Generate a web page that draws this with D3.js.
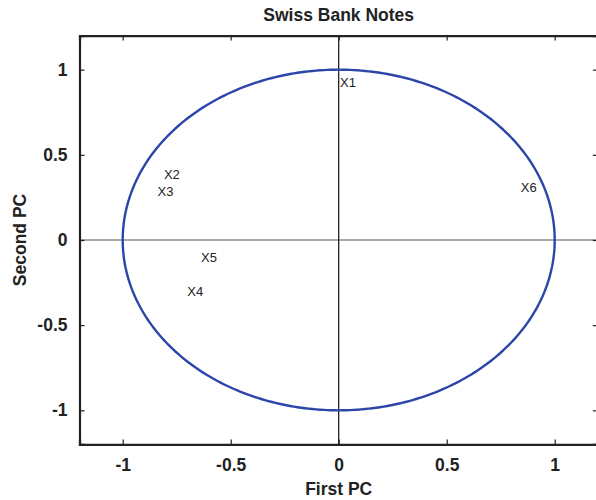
<!DOCTYPE html>
<html><head><meta charset="utf-8">
<script src="https://cdn.jsdelivr.net/npm/d3@7"></script>
<style>
html,body{margin:0;padding:0;background:#fff;}
svg{display:block;}
text{font-family:"Liberation Sans",Arial,sans-serif;}
</style></head>
<body>
<svg id="chart" width="596" height="500"></svg>
<script>
const variables = ["X1","X2","X3","X4","X5","X6"];
const firstPC  = [0.006, -0.809, -0.839, -0.701, -0.637, 0.843];
const secondPC = [0.928, 0.385, 0.288, -0.301, -0.102, 0.309];
const xTicks = [-1, -0.5, 0, 0.5, 1];
const yTicks = [-1, -0.5, 0, 0.5, 1];
const title = "Swiss Bank Notes";
const xLabel = "First PC";
const yLabel = "Second PC";

const svg = d3.select("#chart");
const L = 79.5, R = 597.9, T = 35.6, B = 444.4;
const x = d3.scaleLinear().domain([-1.2, 1.2]).range([L, R]);
const y = d3.scaleLinear().domain([-1.2, 1.2]).range([B, T]);

// zero lines
svg.append("line").attr("x1", x(-1.2)).attr("x2", x(1.2)).attr("y1", y(0)).attr("y2", y(0))
  .attr("stroke", "#555").attr("stroke-width", 1.2);
svg.append("line").attr("x1", x(0)).attr("x2", x(0)).attr("y1", y(-1.2)).attr("y2", y(1.2))
  .attr("stroke", "#111").attr("stroke-width", 1.2);

// unit circle
const angles = d3.range(0, 361, 1).map(a => a * Math.PI / 180);
svg.append("path")
  .datum(angles)
  .attr("d", d3.line().x(a => x(Math.cos(a))).y(a => y(Math.sin(a))))
  .attr("fill", "none").attr("stroke", "#2b46a8").attr("stroke-width", 2.4);

// labels
svg.selectAll("text.var").data(variables).enter().append("text")
  .attr("class", "var")
  .attr("x", (d, i) => x(firstPC[i]))
  .attr("y", (d, i) => y(secondPC[i]))
  .attr("dy", "0.36em")
  .attr("font-size", 13).attr("fill", "#222")
  .text(d => d);

// axes
const fmt = d => d === 0 ? "0" : String(d);
const axB = svg.append("g").attr("transform", `translate(0,${B})`)
  .call(d3.axisBottom(x).tickValues(xTicks).tickSize(-5).tickPadding(14).tickFormat(fmt));
const axT = svg.append("g").attr("transform", `translate(0,${T})`)
  .call(d3.axisTop(x).tickValues(xTicks).tickSize(-5).tickFormat(""));
const axL = svg.append("g").attr("transform", `translate(${L},0)`)
  .call(d3.axisLeft(y).tickValues(yTicks).tickSize(-5).tickPadding(12).tickFormat(fmt));
const axR = svg.append("g").attr("transform", `translate(${R},0)`)
  .call(d3.axisRight(y).tickValues(yTicks).tickSize(-5).tickFormat(""));
[axB, axT, axL, axR].forEach(g => {
  g.select(".domain").attr("stroke", "#222").attr("stroke-width", 2.2);
  g.selectAll(".tick line").attr("stroke", "#222").attr("stroke-width", 1.2);
  g.selectAll(".tick text").attr("font-size", 17.5).attr("font-weight", "bold")
    .attr("fill", "#222").attr("font-family", "'Liberation Sans',Arial,sans-serif");
});

// title & axis labels
svg.append("text").attr("x", (L + R) / 2).attr("y", 21)
  .attr("text-anchor", "middle").attr("font-size", 17.5).attr("font-weight", "bold")
  .attr("fill", "#222").text(title);
svg.append("text").attr("x", (L + R) / 2).attr("y", 495)
  .attr("text-anchor", "middle").attr("font-size", 17.5).attr("font-weight", "bold")
  .attr("fill", "#222").text(xLabel);
svg.append("text").attr("transform", `translate(26,${(T + B) / 2}) rotate(-90)`)
  .attr("text-anchor", "middle").attr("font-size", 17.5).attr("font-weight", "bold")
  .attr("fill", "#222").text(yLabel);
</script>
</body></html>
